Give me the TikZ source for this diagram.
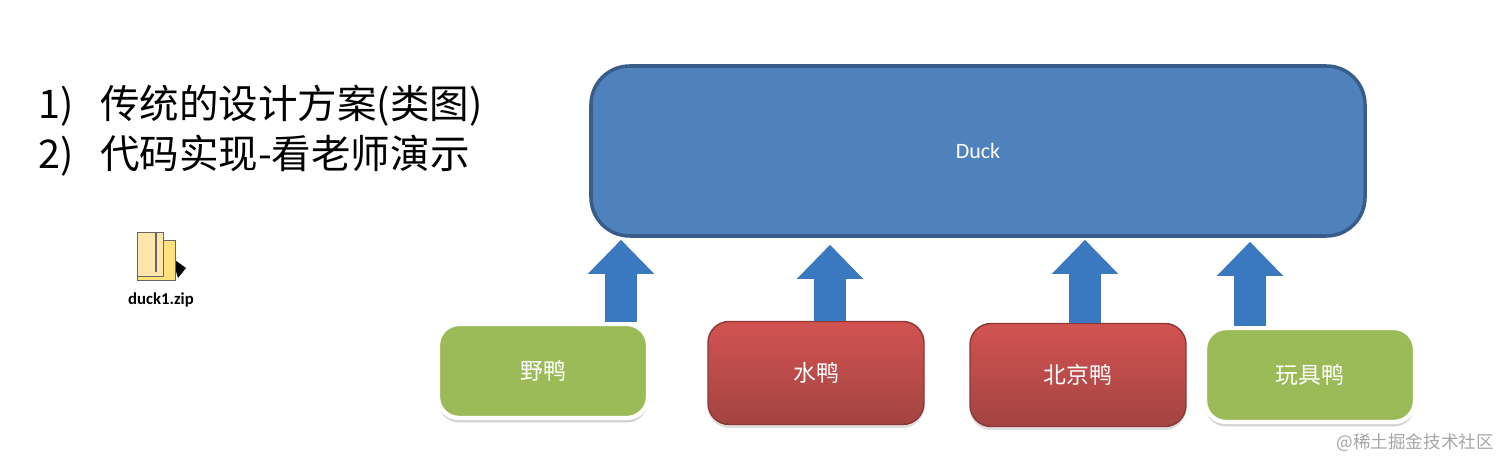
\documentclass[tikz,border=0pt]{standalone}
\usepackage{fontspec}
\setmainfont{Carlito}
\newfontfamily\cjk{Noto Sans CJK SC}
\usetikzlibrary{arrows.meta,shadows}
\definecolor{duckblue}{HTML}{4F81BD}
\definecolor{duckedge}{HTML}{385D8A}
\definecolor{arrblue}{HTML}{3A78C0}
\definecolor{grn}{HTML}{9BBB59}
\definecolor{rd}{HTML}{C0504D}
\definecolor{rdedge}{HTML}{8C3836}
\tikzset{
  px/.style={x=0.02cm,y=-0.02cm},
  greenbox/.style={draw=white,line width=2.5pt,fill=grn,rounded corners=12pt,minimum width=210*0.02cm,minimum height=94*0.02cm,text=white,font=\cjk\fontsize{13}{15}\selectfont,drop shadow={opacity=0.35,shadow xshift=0pt,shadow yshift=-2.5pt}},
  redbox/.style={draw=rdedge,line width=0.8pt,top color=rd!80!red!90!white,bottom color=rd!85!black,rounded corners=12pt,minimum width=216*0.02cm,minimum height=103*0.02cm,text=white,font=\cjk\fontsize{13}{15}\selectfont,drop shadow={opacity=0.25,shadow xshift=0pt,shadow yshift=-2pt}},
  uparrow/.style={color=arrblue,line width=32*0.02cm,-{Triangle[width=64*0.02cm,length=34*0.02cm]}},
  heading/.style={anchor=west,font=\cjk\fontsize{22.5}{26}\selectfont}
}
\begin{document}
\begin{tikzpicture}[px]
\useasboundingbox[fill=white] (0,0) rectangle (1512,469);
\node[draw=duckedge,line width=2pt,fill=duckblue,rounded corners=22pt,minimum width=774*0.02cm,minimum height=170*0.02cm,text=white,font=\fontsize{12.5}{14}\selectfont] (duck) at (978,151) {Duck};
\node[greenbox] (g1) at (543,371) {野鸭};
\node[redbox] (r1) at (816,373) {水鸭};
\node[redbox] (r2) at (1078,375) {北京鸭};
\node[greenbox] (g2) at (1310,375) {玩具鸭};
\coordinate (a1) at (621,0); \coordinate (a2) at (830,0);
\coordinate (a3) at (1085,0); \coordinate (a4) at (1250,0);
\draw[uparrow] (g1.north -| a1) -- ([yshift=-2*0.02cm]duck.south -| a1);
\draw[uparrow] (r1.north -| a2) -- ([yshift=-7*0.02cm]duck.south -| a2);
\draw[uparrow] (r2.north -| a3) -- ([yshift=-2*0.02cm]duck.south -| a3);
\draw[uparrow] (g2.north -| a4) -- ([yshift=-4*0.02cm]duck.south -| a4);
\node[heading] (t1) at (32,106) {1)\ \ \ 传统的设计方案(类图)};
\node[heading] (t2) at (32,156) {2)\ \ \ 代码实现-看老师演示};
% zip icon
\fill[black] (172,258) -- (186,268) -- (178,278) -- cycle;
\draw[fill=yellow!60!orange!50,draw=black!60] (137,240) rectangle (175,280);
\draw[fill=yellow!40!orange!30,draw=black!60] (137,232) rectangle (163,276);
\draw[black!60,line width=1.2pt] (156,233) -- (156,272);
\node[font=\bfseries\fontsize{9.5}{11}\selectfont] (zip) at (161,300) {duck1.zip};
\node[anchor=east,text=gray!70,font=\cjk\fontsize{10}{12}\selectfont] (wm) at (1500,443) {@稀土掘金技术社区};
\end{tikzpicture}
\end{document}
